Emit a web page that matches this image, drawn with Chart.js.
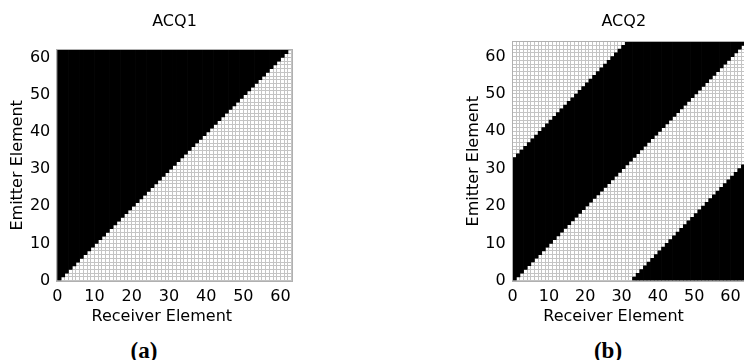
<!DOCTYPE html>
<html>
<head>
<meta charset="utf-8">
<title>ACQ1 / ACQ2</title>
<script src="https://cdn.jsdelivr.net/npm/chart.js@4.4.1/dist/chart.umd.min.js"></script>
<style>
  html, body { margin: 0; padding: 0; background: #fff; }
  body { width: 744px; height: 360px; overflow: hidden; position: relative; }
  canvas { position: absolute; top: 0; }
  #chartA { left: 0; }
  #chartB { left: 372px; }
  .caption {
    position: absolute; top: 338px; line-height: 24px;
    font: bold 23px "Liberation Serif", serif; color: #000;
    transform: translateX(-50%);
  }
</style>
</head>
<body>
<canvas id="chartA" width="372" height="335"></canvas>
<canvas id="chartB" width="380" height="335"></canvas>
<div class="caption" style="left:144px">(a)</div>
<div class="caption" style="left:608px">(b)</div>
<script>
// tick labels shown on both axes
const tickLabels = [0, 10, 20, 30, 40, 50, 60];

// ACQ1: 63 receivers x 62 emitters, black = emitter >= receiver
const acq1Receivers = [0, 1, 2, 3, 4, 5, 6, 7, 8, 9, 10, 11, 12, 13, 14, 15, 16, 17, 18, 19, 20, 21, 22, 23, 24, 25, 26, 27, 28, 29, 30, 31, 32, 33, 34, 35, 36, 37, 38, 39, 40, 41, 42, 43, 44, 45, 46, 47, 48, 49, 50, 51, 52, 53, 54, 55, 56, 57, 58, 59, 60, 61, 62];
const acq1FirstBlack = [0, 1, 2, 3, 4, 5, 6, 7, 8, 9, 10, 11, 12, 13, 14, 15, 16, 17, 18, 19, 20, 21, 22, 23, 24, 25, 26, 27, 28, 29, 30, 31, 32, 33, 34, 35, 36, 37, 38, 39, 40, 41, 42, 43, 44, 45, 46, 47, 48, 49, 50, 51, 52, 53, 54, 55, 56, 57, 58, 59, 60, 61, null];
const acq1LastBlack = [61, 61, 61, 61, 61, 61, 61, 61, 61, 61, 61, 61, 61, 61, 61, 61, 61, 61, 61, 61, 61, 61, 61, 61, 61, 61, 61, 61, 61, 61, 61, 61, 61, 61, 61, 61, 61, 61, 61, 61, 61, 61, 61, 61, 61, 61, 61, 61, 61, 61, 61, 61, 61, 61, 61, 61, 61, 61, 61, 61, 61, 61, null];
const acq1ReceiverCount = 63, acq1Emitters = 62;

// ACQ2: 64 x 64, a diagonal black band plus the wrapped corner
const acq2Receivers = [0, 1, 2, 3, 4, 5, 6, 7, 8, 9, 10, 11, 12, 13, 14, 15, 16, 17, 18, 19, 20, 21, 22, 23, 24, 25, 26, 27, 28, 29, 30, 31, 32, 33, 34, 35, 36, 37, 38, 39, 40, 41, 42, 43, 44, 45, 46, 47, 48, 49, 50, 51, 52, 53, 54, 55, 56, 57, 58, 59, 60, 61, 62, 63];
const acq2BandFirst = [0, 1, 2, 3, 4, 5, 6, 7, 8, 9, 10, 11, 12, 13, 14, 15, 16, 17, 18, 19, 20, 21, 22, 23, 24, 25, 26, 27, 28, 29, 30, 31, 32, 33, 34, 35, 36, 37, 38, 39, 40, 41, 42, 43, 44, 45, 46, 47, 48, 49, 50, 51, 52, 53, 54, 55, 56, 57, 58, 59, 60, 61, 62, 63];
const acq2BandLast = [32, 33, 34, 35, 36, 37, 38, 39, 40, 41, 42, 43, 44, 45, 46, 47, 48, 49, 50, 51, 52, 53, 54, 55, 56, 57, 58, 59, 60, 61, 62, 63, 63, 63, 63, 63, 63, 63, 63, 63, 63, 63, 63, 63, 63, 63, 63, 63, 63, 63, 63, 63, 63, 63, 63, 63, 63, 63, 63, 63, 63, 63, 63, 63];
const acq2WrapFirst = [null, null, null, null, null, null, null, null, null, null, null, null, null, null, null, null, null, null, null, null, null, null, null, null, null, null, null, null, null, null, null, null, null, 0, 0, 0, 0, 0, 0, 0, 0, 0, 0, 0, 0, 0, 0, 0, 0, 0, 0, 0, 0, 0, 0, 0, 0, 0, 0, 0, 0, 0, 0, 0];
const acq2WrapLast = [null, null, null, null, null, null, null, null, null, null, null, null, null, null, null, null, null, null, null, null, null, null, null, null, null, null, null, null, null, null, null, null, null, 0, 1, 2, 3, 4, 5, 6, 7, 8, 9, 10, 11, 12, 13, 14, 15, 16, 17, 18, 19, 20, 21, 22, 23, 24, 25, 26, 27, 28, 29, 30];
const acq2ReceiverCount = 64, acq2Emitters = 64;

const FONT = { family: "'DejaVu Sans', sans-serif", size: 16 };
const GRID = '#c4c4c4';

// one floating bar per receiver column, from first to last black emitter
function cells(receivers, first, last) {
    const out = [];
    receivers.forEach((r, i) => {
        if (first[i] === null) return;
        out.push({ x: r + 0.5, y: [first[i], last[i] + 1] });
    });
    return out;
}

// grey box around the plot area, on top of the black cells
const frame = {
    id: 'frame',
    afterDatasetsDraw(chart) {
        const { ctx, chartArea: a } = chart;
        ctx.save();
        ctx.strokeStyle = '#b0b0b0';
        ctx.lineWidth = 1;
        const l = Math.round(a.left) - 0.5, t = Math.round(a.top) - 0.5;
        ctx.strokeRect(l, t, Math.round(a.right) - Math.round(a.left) + 1, Math.round(a.bottom) - Math.round(a.top) + 1);
        ctx.restore();
    }
};

function tickOpts() {
    return {
        stepSize: 1, autoSkip: false, maxRotation: 0, minRotation: 0,
        maxTicksLimit: 1000, padding: 7, color: '#000', font: FONT,
        callback: v => tickLabels.includes(v) ? String(v) : ''
    };
}

function gridOpts() {
    return { color: GRID, lineWidth: 1, drawTicks: false, offset: false };
}

function makeChart(id, cfg) {
    return new Chart(document.getElementById(id), {
        type: 'bar',
        data: {
            datasets: cfg.datasets.map(d => ({
                data: d, backgroundColor: '#000', borderWidth: 0,
                grouped: false, barPercentage: 1, categoryPercentage: 1
            }))
        },
        options: {
            responsive: false, animation: false, devicePixelRatio: 1, events: [],
            layout: { padding: cfg.padding },
            plugins: {
                legend: { display: false },
                tooltip: { enabled: false },
                title: {
                    display: true, text: cfg.title, color: '#000',
                    font: { ...FONT, weight: 'normal' }, fullSize: false,
                    padding: cfg.titlePad
                }
            },
            scales: {
                x: {
                    type: 'linear', min: 0, max: cfg.xMax, offset: false,
                    grid: gridOpts(), border: { display: false }, ticks: tickOpts(),
                    title: { display: true, text: cfg.xTitle, color: '#000', font: FONT, padding: { top: 0, bottom: 8.4 } },
                    afterFit: s => { s.height = 54.3; }
                },
                y: {
                    type: 'linear', min: 0, max: cfg.yMax,
                    grid: gridOpts(), border: { display: false }, ticks: tickOpts(),
                    title: { display: true, text: 'Emitter Element', color: '#000', font: FONT, padding: { top: 8.4, bottom: 0 } },
                    afterFit: s => { s.width = 57.3; }
                }
            }
        },
        plugins: [frame]
    });
}

makeChart('chartA', {
    title: 'ACQ1',
    xTitle: 'Receiver Element     ',
    xMax: acq1ReceiverCount, yMax: acq1Emitters,
    padding: { left: 0, right: 80.3, top: 0, bottom: 0 },
    titlePad: { top: 11.8, bottom: 19.0 },
    datasets: [cells(acq1Receivers, acq1FirstBlack, acq1LastBlack)]
});

makeChart('chartB', {
    title: 'ACQ2  ',
    xTitle: 'Receiver Element      ',
    xMax: acq2ReceiverCount, yMax: acq2Emitters,
    padding: { left: 83.4, right: 1.2, top: 0, bottom: 0 },
    titlePad: { top: 11.8, bottom: 10.7 },
    datasets: [
        cells(acq2Receivers, acq2BandFirst, acq2BandLast),
        cells(acq2Receivers, acq2WrapFirst, acq2WrapLast)
    ]
});
</script>
</body>
</html>
